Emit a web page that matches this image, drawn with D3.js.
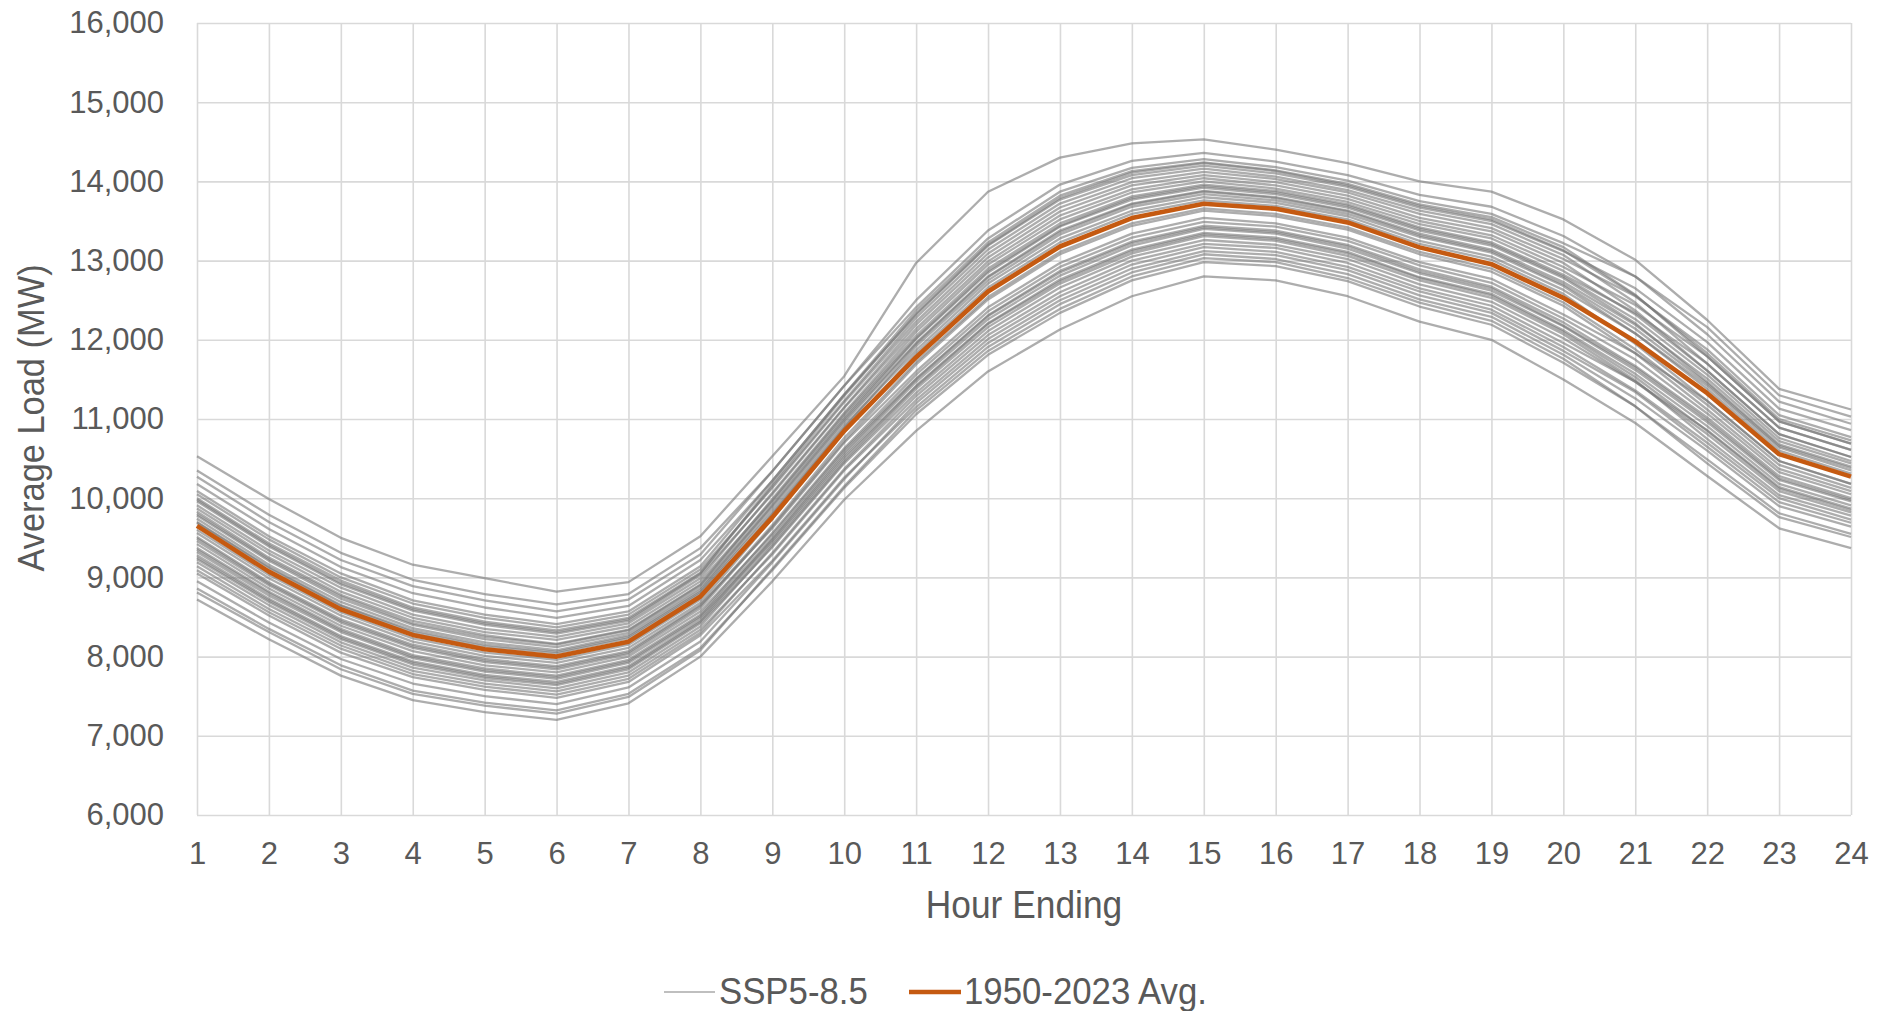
<!DOCTYPE html>
<html>
<head>
<meta charset="utf-8">
<script src="https://cdn.jsdelivr.net/npm/d3@7"></script>
<style>
  html, body { margin: 0; padding: 0; background: #ffffff; }
  svg { display: block; font-family: "Liberation Sans", Arial, sans-serif; }
</style>
</head>
<body>
<svg id="chart" width="1883" height="1011"></svg>
<script>
// Hour-ending categories and y-axis ticks
const hours = [1, 2, 3, 4, 5, 6, 7, 8, 9, 10, 11, 12, 13, 14, 15, 16, 17, 18, 19, 20, 21, 22, 23, 24];
const yTicks = [6000, 7000, 8000, 9000, 10000, 11000, 12000, 13000, 14000, 15000, 16000];

// Historical average daily load shape (MW)
const avgLoad = [9650, 9073, 8598, 8274, 8093, 8000, 8189, 8758, 9758, 10850, 11780, 12610,
                 13178, 13537, 13718, 13654, 13482, 13167, 12955, 12530, 11980, 11326, 10556, 10273];

// SSP5-8.5 projected load shapes, one per weather year (MW)
const sspRuns = [
  [10530, 9990, 9500, 9160, 8990, 8820, 8940, 9520, 10530, 11540, 12970, 13870, 14300, 14480, 14530, 14400, 14230, 14000, 13870, 13520, 13010, 12250, 11380, 11120],
  [10350, 9790, 9310, 8970, 8790, 8660, 8790, 9370, 10340, 11420, 12410, 13280, 13870, 14170, 14280, 14180, 14010, 13750, 13590, 13220, 12800, 12160, 11300, 11030],
  [10270, 9700, 9220, 8890, 8710, 8570, 8720, 9290, 10340, 11420, 12500, 13380, 13960, 14260, 14360, 14250, 14080, 13830, 13680, 13310, 12800, 12070, 11220, 10940],
  [10180, 9610, 9130, 8800, 8620, 8490, 8640, 9220, 10220, 11310, 12320, 13190, 13770, 14080, 14200, 14100, 13930, 13670, 13500, 13120, 12650, 11970, 11130, 10860],
  [10090, 9520, 9050, 8710, 8530, 8410, 8570, 9140, 10220, 11310, 12370, 13230, 13820, 14130, 14240, 14140, 13970, 13710, 13550, 13170, 12570, 11790, 10970, 10690],
  [10050, 9480, 9000, 8670, 8490, 8370, 8530, 9100, 10130, 11210, 12230, 13090, 13670, 13990, 14120, 14030, 13860, 13590, 13410, 13020, 12550, 11880, 11050, 10770],
  [10000, 9430, 8960, 8620, 8440, 8330, 8490, 9060, 10150, 11230, 12280, 13140, 13720, 14040, 14160, 14060, 13890, 13630, 13460, 13070, 12470, 11700, 10890, 10610],
  [9980, 9410, 8930, 8600, 8420, 8310, 8470, 9050, 10180, 11290, 12330, 13200, 13790, 14110, 14230, 14130, 13950, 13690, 13520, 13130, 12560, 11830, 11000, 10730],
  [9960, 9390, 8910, 8580, 8400, 8290, 8450, 9030, 10050, 11140, 12140, 12990, 13570, 13900, 14040, 13950, 13780, 13500, 13320, 12920, 12440, 11790, 10970, 10690],
  [9910, 9340, 8870, 8530, 8350, 8250, 8420, 8990, 10070, 11150, 12190, 13040, 13620, 13950, 14080, 13990, 13820, 13540, 13370, 12970, 12370, 11610, 10810, 10520],
  [9870, 9300, 8820, 8490, 8310, 8210, 8380, 8950, 9970, 11060, 12050, 12900, 13470, 13810, 13960, 13880, 13710, 13420, 13230, 12820, 12340, 11700, 10890, 10610],
  [9830, 9250, 8780, 8450, 8270, 8160, 8340, 8910, 9990, 11080, 12100, 12950, 13520, 13860, 14000, 13910, 13740, 13460, 13280, 12870, 12320, 11610, 10810, 10520],
  [9800, 9230, 8760, 8420, 8250, 8150, 8330, 8900, 9950, 11030, 12020, 12870, 13440, 13790, 13940, 13860, 13690, 13400, 13210, 12800, 12260, 11560, 10760, 10470],
  [9780, 9210, 8730, 8400, 8220, 8120, 8300, 8870, 9900, 10980, 11960, 12800, 13380, 13720, 13880, 13800, 13630, 13340, 13140, 12730, 12190, 11510, 10720, 10440],
  [9740, 9160, 8690, 8360, 8180, 8080, 8270, 8840, 9910, 11000, 12010, 12850, 13430, 13770, 13920, 13840, 13670, 13380, 13190, 12780, 12210, 11470, 10680, 10400],
  [9700, 9130, 8650, 8330, 8150, 8060, 8250, 8820, 9860, 10950, 11950, 12790, 13360, 13710, 13870, 13790, 13620, 13320, 13120, 12700, 12140, 11450, 10660, 10380],
  [9690, 9120, 8640, 8310, 8130, 8040, 8230, 8800, 9820, 10910, 11870, 12710, 13280, 13630, 13800, 13730, 13560, 13250, 13050, 12630, 12080, 11420, 10640, 10350],
  [9600, 9030, 8560, 8230, 8050, 7960, 8150, 8720, 9800, 10890, 11920, 12750, 13330, 13680, 13840, 13760, 13590, 13300, 13100, 12680, 12080, 11380, 10600, 10310],
  [9560, 8990, 8520, 8190, 8010, 7920, 8110, 8680, 9740, 10830, 11830, 12660, 13230, 13590, 13760, 13690, 13520, 13210, 13010, 12580, 11950, 11230, 10470, 10180],
  [9510, 8940, 8470, 8150, 7970, 7880, 8070, 8650, 9620, 10700, 11600, 12410, 12970, 13340, 13540, 13470, 13290, 12980, 12770, 12320, 11830, 11230, 10470, 10180],
  [9490, 8920, 8450, 8130, 7950, 7860, 8050, 8640, 9660, 10760, 11720, 12540, 13110, 13470, 13660, 13590, 13420, 13110, 12900, 12470, 11880, 11180, 10420, 10130],
  [9460, 8900, 8430, 8110, 7930, 7840, 8030, 8610, 9640, 10720, 11690, 12510, 13080, 13440, 13630, 13560, 13390, 13080, 12860, 12430, 11830, 11120, 10370, 10090],
  [9420, 8860, 8390, 8070, 7890, 7800, 8000, 8570, 9540, 10610, 11510, 12310, 12870, 13240, 13440, 13380, 13200, 12890, 12670, 12220, 11670, 11020, 10280, 10000],
  [9370, 8820, 8350, 8020, 7850, 7760, 7960, 8530, 9560, 10630, 11560, 12360, 12920, 13290, 13490, 13430, 13250, 12940, 12720, 12270, 11750, 11070, 10330, 10050],
  [9350, 8800, 8330, 8000, 7830, 7740, 7940, 8510, 9500, 10580, 11500, 12300, 12850, 13220, 13420, 13360, 13180, 12860, 12650, 12180, 11650, 10990, 10250, 9980],
  [9320, 8770, 8310, 7980, 7810, 7720, 7920, 8490, 9460, 10520, 11420, 12210, 12760, 13140, 13350, 13290, 13110, 12790, 12580, 12120, 11570, 10910, 10180, 9910],
  [9280, 8730, 8260, 7940, 7770, 7680, 7880, 8460, 9480, 10550, 11470, 12260, 12810, 13190, 13400, 13340, 13150, 12840, 12620, 12170, 11620, 10960, 10230, 9960],
  [9250, 8710, 8240, 7920, 7750, 7660, 7860, 8440, 9430, 10490, 11410, 12200, 12740, 13120, 13330, 13270, 13090, 12780, 12560, 12100, 11530, 10850, 10120, 9850],
  [9230, 8690, 8220, 7900, 7730, 7640, 7840, 8420, 9380, 10440, 11330, 12110, 12660, 13050, 13260, 13200, 13020, 12700, 12480, 12020, 11470, 10810, 10090, 9820],
  [9190, 8650, 8180, 7860, 7700, 7600, 7800, 8380, 9400, 10460, 11380, 12160, 12710, 13090, 13310, 13250, 13060, 12750, 12530, 12070, 11490, 10750, 10040, 9780],
  [9140, 8600, 8140, 7820, 7660, 7560, 7760, 8340, 9290, 10350, 11240, 12010, 12550, 12950, 13170, 13110, 12920, 12610, 12380, 11910, 11360, 10700, 10000, 9730],
  [9090, 8560, 8100, 7780, 7620, 7520, 7720, 8300, 9310, 10370, 11290, 12060, 12600, 13000, 13210, 13160, 12970, 12650, 12430, 11960, 11470, 10860, 10140, 9870],
  [9050, 8520, 8050, 7740, 7580, 7480, 7680, 8270, 9210, 10260, 11150, 11910, 12450, 12850, 13080, 13020, 12830, 12510, 12290, 11810, 11260, 10600, 9900, 9640],
  [8950, 8430, 7970, 7660, 7500, 7400, 7610, 8190, 9190, 10240, 11200, 11960, 12500, 12900, 13120, 13070, 12880, 12560, 12340, 11860, 11340, 10650, 9950, 9690],
  [8860, 8350, 7890, 7570, 7420, 7320, 7530, 8110, 9090, 10130, 11060, 11810, 12340, 12750, 12980, 12930, 12740, 12420, 12190, 11710, 11160, 10490, 9810, 9550],
  [8810, 8310, 7840, 7530, 7380, 7280, 7490, 8080, 9110, 10150, 11110, 11860, 12390, 12800, 13030, 12980, 12780, 12470, 12240, 11760, 11160, 10440, 9760, 9510],
  [8720, 8220, 7760, 7450, 7300, 7200, 7410, 8000, 8950, 9980, 10850, 11600, 12130, 12550, 12800, 12750, 12550, 12230, 12000, 11500, 10950, 10280, 9620, 9370]
];

const seriesNames = ["SSP5-8.5", "1950-2023 Avg."];
const colors = { ssp: "#777777", avg: "#c55a11", grid: "#d9d9d9", text: "#595959" };

const svg = d3.select("#chart");
const plot = { left: 197, right: 1851, top: 23, bottom: 815 };

const x = d3.scaleLinear().domain([1, 24]).range([plot.left, plot.right]);
const y = d3.scaleLinear().domain([6000, 16000]).range([plot.bottom, plot.top]);

// Horizontal gridlines + y tick labels
const yAxis = svg.append("g")
  .attr("transform", `translate(${plot.left},0)`)
  .call(d3.axisLeft(y).tickValues(yTicks).tickFormat(d3.format(","))
        .tickSize(-(plot.right - plot.left)).tickPadding(33));
yAxis.select(".domain").remove();
yAxis.selectAll(".tick line").attr("stroke", colors.grid).attr("stroke-width", 1.6);
yAxis.selectAll(".tick text")
  .attr("fill", colors.text).attr("font-size", 31)
  .attr("font-family", "'Liberation Sans', Arial, sans-serif");

// Vertical gridlines + hour labels
const xAxis = svg.append("g")
  .attr("transform", `translate(0,${plot.bottom})`)
  .call(d3.axisBottom(x).tickValues(hours).tickFormat(d3.format("d"))
        .tickSize(-(plot.bottom - plot.top)).tickPadding(27));
xAxis.select(".domain").remove();
xAxis.selectAll(".tick line").attr("stroke", colors.grid).attr("stroke-width", 1.6);
xAxis.selectAll(".tick text")
  .attr("fill", colors.text).attr("font-size", 31)
  .attr("font-family", "'Liberation Sans', Arial, sans-serif");

const line = d3.line().x((d, i) => x(hours[i])).y(d => y(d));

// Projected load shapes
svg.append("g").selectAll("path").data(sspRuns).join("path")
  .attr("d", line)
  .attr("fill", "none")
  .attr("stroke", colors.ssp)
  .attr("stroke-opacity", 0.6)
  .attr("stroke-width", 2.3)
  .attr("stroke-linejoin", "round");

// Historical average
svg.append("path").datum(avgLoad)
  .attr("d", line)
  .attr("fill", "none")
  .attr("stroke", colors.avg)
  .attr("stroke-width", 4.6)
  .attr("stroke-linejoin", "round");

// Axis titles (slightly condensed)
svg.append("text")
  .attr("transform", `translate(${(plot.left + plot.right) / 2},918) scale(0.93,1)`)
  .attr("text-anchor", "middle")
  .attr("font-size", 38).attr("fill", colors.text)
  .text("Hour Ending");

svg.append("text")
  .attr("transform", `translate(44,418) rotate(-90) scale(0.93,1)`)
  .attr("text-anchor", "middle")
  .attr("font-size", 37).attr("fill", colors.text)
  .text("Average Load (MW)");

// Legend
const legend = svg.append("g");
legend.append("line")
  .attr("x1", 664).attr("x2", 715).attr("y1", 992).attr("y2", 992)
  .attr("stroke", "#bfbfbf").attr("stroke-width", 2);
legend.append("text")
  .attr("transform", "translate(719,1004) scale(0.94,1)")
  .attr("font-size", 37).attr("fill", colors.text)
  .text(seriesNames[0]);
legend.append("line")
  .attr("x1", 909).attr("x2", 961).attr("y1", 992).attr("y2", 992)
  .attr("stroke", colors.avg).attr("stroke-width", 4.5);
legend.append("text")
  .attr("transform", "translate(964,1004) scale(0.94,1)")
  .attr("font-size", 37).attr("fill", colors.text)
  .text(seriesNames[1]);
</script>
</body>
</html>
